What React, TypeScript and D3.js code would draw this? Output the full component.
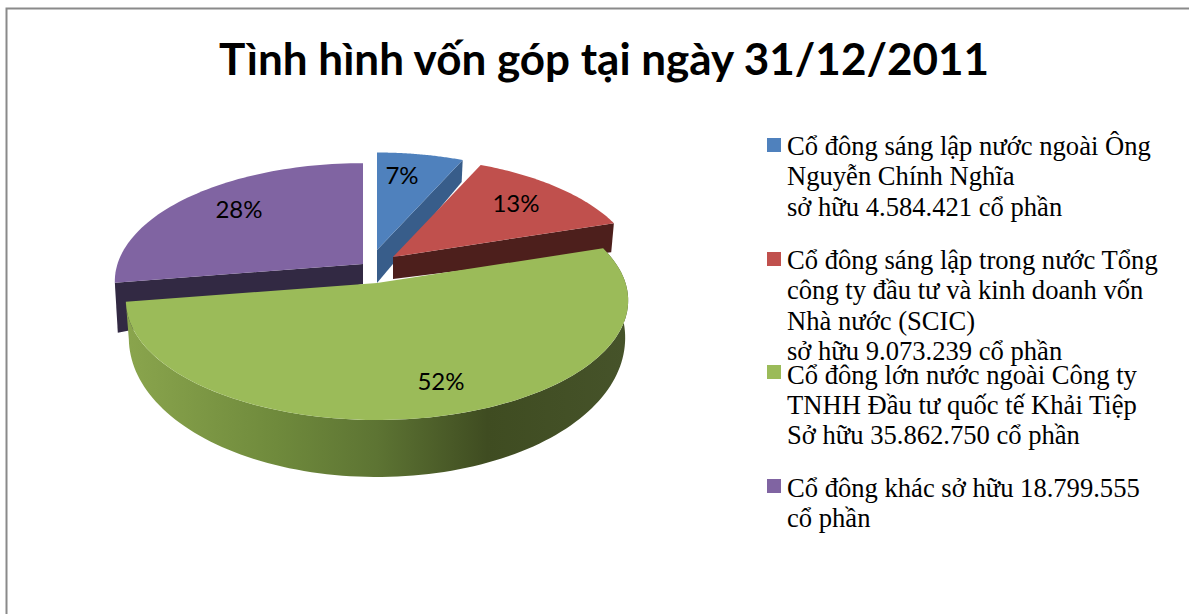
import React from "react";
import * as d3 from "d3";

const title = "Tình hình vốn góp tại ngày 31/12/2011";
const shares = [4584421, 9073239, 35862750, 18799555];
const percentLabels = ["7%", "13%", "52%", "28%"];
const legendLines = [
  ["Cổ đông sáng lập nước ngoài Ông", "Nguyễn Chính Nghĩa", "sở hữu 4.584.421 cổ phần"],
  ["Cổ đông sáng lập trong nước Tổng", "công ty đầu tư và kinh doanh vốn", "Nhà nước (SCIC)", "sở hữu 9.073.239 cổ phần"],
  ["Cổ đông lớn nước ngoài Công ty", "TNHH Đầu tư quốc tế Khải Tiệp", "Sở hữu 35.862.750 cổ phần"],
  ["Cổ đông khác sở hữu 18.799.555", "cổ phần"],
];
const topColors = ["#4f81bd", "#c0504d", "#9bbb59", "#8064a2"];
const sideColors = ["#385d8a", "#4d1f1c", "#6f8a3c", "#322943"];

// layout
const cx = 377, cy = 283, R = 248.5, S = 117, k = 0.146;
const sliceDx = [0, 16, 0, -14];
const sliceDy = [-33, -26, 0, -19];
const sliceScale = [0.955, 0.977, 1, 0.988];
const labelPos: [number, number][] = [[402, 176], [516, 204], [441, 382], [239, 210]];
const legendY = [147, 261, 374, 488];
const legendTextY = [146, 260, 374.5, 488];
const lineH = 30.4;

const pieGen = d3.pie<number>().sort(null).value((d) => d);
const arcs = pieGen(shares);

function project(theta: number, r: number, i: number, depth = 0) {
  const X = Math.sin(theta) * r;
  const Y = -Math.cos(theta) * r;
  const w = 1 - k * Y;
  const s = sliceScale[i];
  const shrink = depth ? 0.988 : 1;
  return [
    cx + sliceDx[i] + (s * shrink * R * X) / w,
    cy + sliceDy[i] + (s * S * Y) / w + depth,
  ] as [number, number];
}

const line = d3.line<[number, number]>().x((d) => d[0]).y((d) => d[1]);

function sector(i: number) {
  const a = arcs[i];
  const ts = d3.range(0, 61).map((j) => a.startAngle + ((a.endAngle - a.startAngle) * j) / 60);
  const pts = [project(0, 0, i), ...ts.map((t) => project(t, 1, i))];
  return line(pts) + "Z";
}
function radialFace(i: number, theta: number, dOuter: number, dInner: number) {
  const a = project(0, 0, i), b = project(theta, 1, i);
  const bx = project(theta, 1, i, 1)[0];
  return line([a, b, [bx, b[1] + dOuter], [a[0], a[1] + dInner]]) + "Z";
}
function greenSide() {
  const a = arcs[2];
  const ts = d3.range(0, 121).map((j) => a.startAngle + ((a.endAngle - a.startAngle) * j) / 120)
    .filter((t) => Math.cos(t) < 0.32);
  const top = ts.map((t) => project(t, 1, 2));
  const bottom = ts.map((t) => {
    const Y = -Math.cos(t);
    return project(t, 1, 2, 34 + 23 * Math.max(Y, 0));
  });
  return line([...top, ...bottom.reverse()]) + "Z";
}

export default function App() {
  return (
    <svg width={1189} height={614} style={{ position: "absolute", left: 0, top: 0, background: "#fff" }}>
      <defs>
        <linearGradient id="gs" gradientUnits="userSpaceOnUse" x1={126} x2={628} y1={0} y2={0}>
          <stop offset="0" stopColor="#8aa54d" />
          <stop offset="0.3" stopColor="#6f8a3c" />
          <stop offset="0.5" stopColor="#5d7433" />
          <stop offset="0.72" stopColor="#3f4c21" />
          <stop offset="1" stopColor="#46532a" />
        </linearGradient>
      </defs>
      <path d="M6.5 614V8.5H1189" fill="none" stroke="#8a8a8a" strokeWidth={2} />
      <text x={604} y={75} textAnchor="middle" fontFamily="Lato, 'Open Sans', sans-serif" fontWeight={700} fontSize={44} fill="#000">{title}</text>
      <path d={radialFace(3, arcs[3].startAngle, 50, 20)} fill={sideColors[3]} />
      <path d={sector(3)} fill={topColors[3]} />
      <path d={radialFace(0, arcs[0].endAngle, 22, 33)} fill={sideColors[0]} />
      <path d={sector(0)} fill={topColors[0]} />
      <path d={radialFace(1, arcs[1].endAngle, 29, 22)} fill={sideColors[1]} />
      <path d={sector(1)} fill={topColors[1]} />
      <path d={greenSide()} fill="url(#gs)" />
      <path d={sector(2)} fill={topColors[2]} />
      {percentLabels.map((p, i) => (
        <text key={i} x={labelPos[i][0]} y={labelPos[i][1] + 8} textAnchor="middle" fontFamily="Lato, 'Open Sans', sans-serif" fontSize={24} fill="#000">{p}</text>
      ))}
      {legendLines.map((ls, i) => (
        <g key={i}>
          <rect x={767} y={legendY[i] - 9} width={14} height={14} fill={topColors[i]} />
          {ls.map((l, j) => (
            <text key={j} x={787} y={legendTextY[i] + 9 + j * lineH} fontFamily="'Liberation Serif', serif" fontSize={26.6} fill="#000">{l}</text>
          ))}
        </g>
      ))}
    </svg>
  );
}
